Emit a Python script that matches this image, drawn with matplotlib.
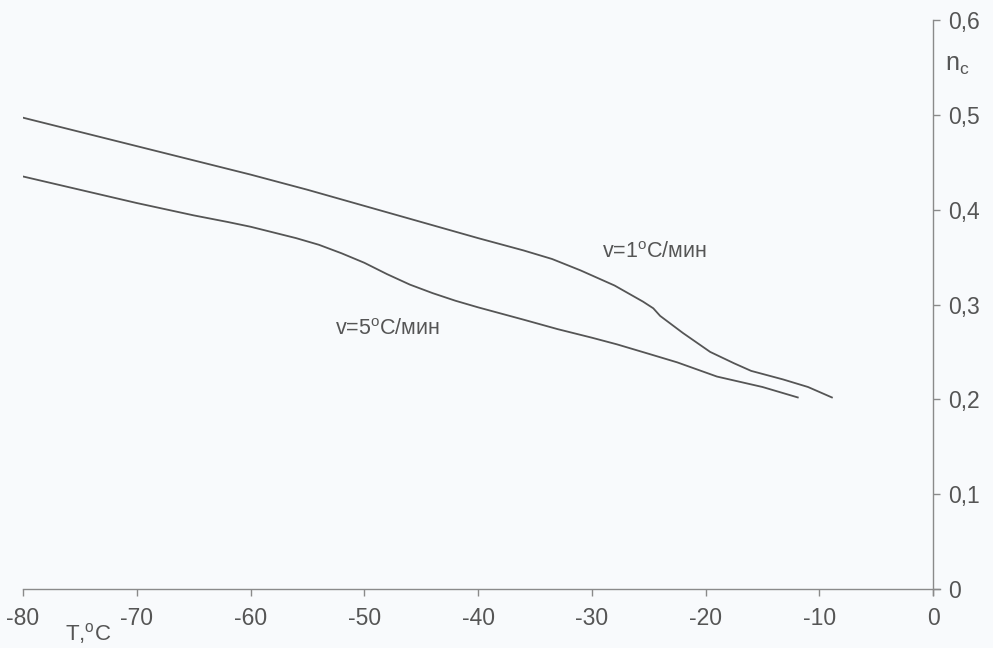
import matplotlib.pyplot as plt

plt.rcParams['font.family'] = ['Liberation Sans', 'DejaVu Sans']
plt.rcParams['mathtext.fontset'] = 'custom'
plt.rcParams['mathtext.rm'] = 'Liberation Sans'
plt.rcParams['mathtext.it'] = 'Liberation Sans'

# v = 1 C/мин
T1 = [-80, -75, -70, -65, -60, -55, -50, -45, -40, -36, -33.5, -31, -28, -25.5,
      -24.6, -24, -22, -19.6, -17.5, -16, -13.2, -11, -8.9]
n1 = [0.497, 0.482, 0.467, 0.452, 0.437, 0.421, 0.404, 0.387, 0.370, 0.357, 0.348,
      0.336, 0.320, 0.303, 0.296, 0.288, 0.270, 0.250, 0.238, 0.230, 0.221, 0.213, 0.202]

# v = 5 C/мин
T2 = [-80, -75, -70, -65, -62, -60, -58, -56, -54, -52, -50, -48, -46, -44, -42, -40,
      -36, -33, -30, -27.8, -25, -22.5, -19, -15, -11.9]
n2 = [0.435, 0.421, 0.407, 0.394, 0.387, 0.382, 0.376, 0.370, 0.363, 0.354, 0.344,
      0.332, 0.321, 0.312, 0.304, 0.297, 0.284, 0.274, 0.265, 0.258, 0.248, 0.239,
      0.224, 0.213, 0.202]

xticks = [-80, -70, -60, -50, -40, -30, -20, -10, 0]
yticks = [0, 0.1, 0.2, 0.3, 0.4, 0.5, 0.6]
ylabels = ['0', '0,1', '0,2', '0,3', '0,4', '0,5', '0,6']

gris = '#555555'
fond = '#f8fafc'

fig = plt.figure(figsize=(9.93, 6.48), dpi=100, facecolor=fond)
ax = fig.add_axes([0.0232, 0.0823, 0.9234, 0.8868])
ax.set_facecolor(fond)

ax.plot(T1, n1, color=gris, lw=1.3)
ax.plot(T2, n2, color=gris, lw=1.3)

ax.set_xlim(-80, 0.6)
ax.set_ylim(-0.006, 0.6)

# axes : seulement en bas et a droite
ax.spines['left'].set_visible(False)
ax.spines['top'].set_visible(False)
ax.spines['right'].set_position(('data', 0))
ax.spines['bottom'].set_position(('data', 0))
for s in ('right', 'bottom'):
    ax.spines[s].set_color('#8a8a8a')
    ax.spines[s].set_linewidth(1.0)

ax.yaxis.tick_right()
ax.set_xticks(xticks)
ax.set_xticklabels([str(t) for t in xticks])
ax.set_yticks(yticks)
ax.set_yticklabels(ylabels)
ax.tick_params(axis='both', direction='out', length=5, width=1.0, color='#8a8a8a',
               labelcolor=gris, labelsize=16.5)
ax.tick_params(axis='x', pad=8)
ax.tick_params(axis='y', pad=6)

ax.text(-29.1, 0.355, r'v=1$^{\mathrm{o}}$C/мин', fontsize=15.5, color=gris,
        ha='left', va='center')
ax.text(-52.6, 0.274, r'v=5$^{\mathrm{o}}$C/мин', fontsize=15.5, color=gris,
        ha='left', va='center')
ax.text(1.0, 0.553, r'n$_{\mathrm{c}}$', fontsize=18, color=gris,
        ha='left', va='center', clip_on=False)
ax.text(-76.3, -0.047, r'T,$^{\mathrm{o}}$C', fontsize=16, color=gris,
        ha='left', va='center', clip_on=False)

fig.savefig('out.png', dpi=100, facecolor=fond)
